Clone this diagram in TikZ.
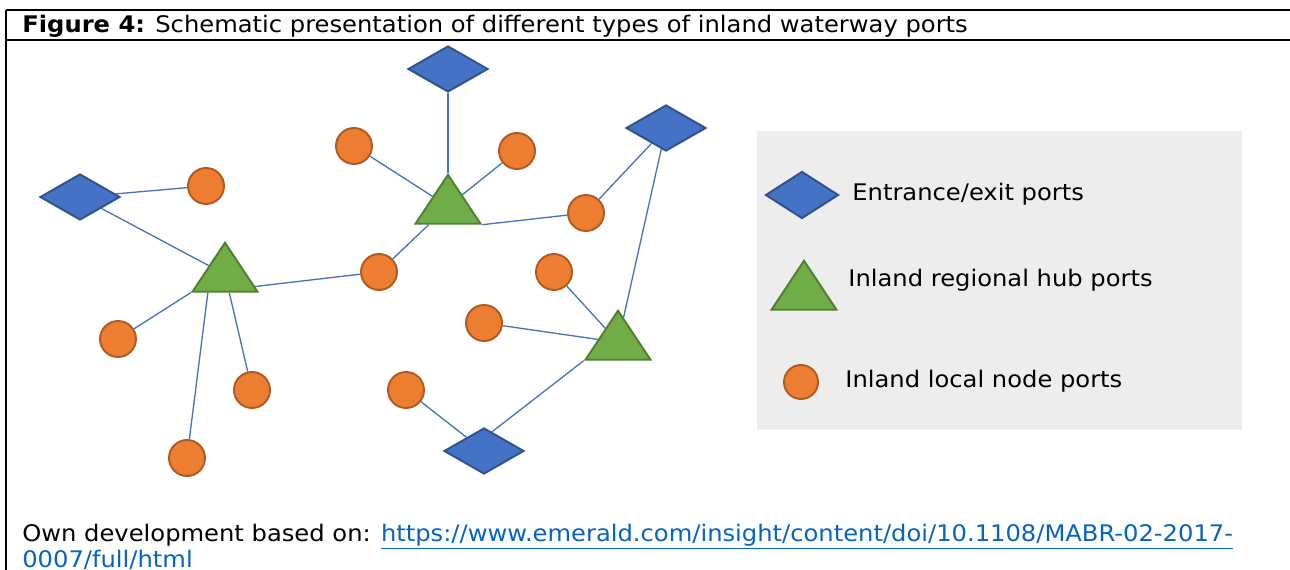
\documentclass[tikz,border=0pt]{standalone}
\usepackage{fontspec}
\setmainfont{DejaVu Sans}[FakeStretch=1.06]
\usetikzlibrary{shapes.geometric,backgrounds,calc}

\definecolor{portblue}{HTML}{4472C4}
\definecolor{exitedge}{HTML}{2F528F}
\definecolor{hubgreen}{HTML}{70AD47}
\definecolor{hubedge}{HTML}{507E32}
\definecolor{localorange}{HTML}{ED7D31}
\definecolor{localedge}{HTML}{AE5A21}
\definecolor{legendgrey}{HTML}{EDEDED}
\definecolor{linkblue}{HTML}{0563C1}

\tikzset{
  exitport/.style={diamond, draw=exitedge, fill=portblue, line width=1.1pt,
    minimum width=1.6cm, minimum height=0.92cm, inner sep=0pt},
  hubport/.style={isosceles triangle, isosceles triangle apex angle=67,
    isosceles triangle stretches, shape border rotate=90, anchor=apex,
    draw=hubedge, fill=hubgreen, line width=1.1pt,
    minimum width=1.3cm, minimum height=0.98cm, inner sep=0pt},
  localport/.style={circle, draw=localedge, fill=localorange, line width=1.1pt,
    minimum size=0.72cm, inner sep=0pt},
  waterway/.style={portblue, line width=0.75pt},
  txt/.style={anchor=base west, inner sep=0pt, font=\fontsize{13}{15.6}\selectfont},
}

\begin{document}
\begin{tikzpicture}[x=0.02cm,y=-0.02cm]
    \useasboundingbox (0,0) rectangle (1290,570);
    % frame and title
    \draw[line width=1.6pt] (6,10) -- (1290,10);
    \draw[line width=1.6pt] (6,40) -- (1290,40);
    \draw[line width=1.1pt] (6,10) -- (6,575);
    \node[txt] (title) at (22,33)
      {\textbf{Figure 4:} Schematic presentation of different types of inland waterway ports};
    % entrance/exit ports
    \node[exitport] (D1) at (448,69) {};
    \node[exitport] (D2) at (666,128) {};
    \node[exitport] (D3) at (80,197) {};
    \node[exitport] (D4) at (484,451) {};
    % regional hubs
    \node[hubport] (T1) at (448,173) {};
    \node[hubport] (T2) at (225,241) {};
    \node[hubport] (T3) at (618,309) {};
    % local nodes
    \node[localport] (C1) at (354,146) {};
    \node[localport] (C2) at (517,151) {};
    \node[localport] (C3) at (206,186) {};
    \node[localport] (C4) at (586,213) {};
    \node[localport] (C5) at (379,272) {};
    \node[localport] (C6) at (554,272) {};
    \node[localport] (C7) at (484,323) {};
    \node[localport] (C8) at (118,339) {};
    \node[localport] (C9) at (252,390) {};
    \node[localport] (C10) at (406,390) {};
    \node[localport] (C11) at (187,458) {};
    % waterways, behind the ports
    \begin{pgfonlayer}{background}
      \draw[waterway] (D1) -- (T1);
      \draw[waterway] (C1) -- (T1);
      \draw[waterway] (C2) -- (T1);
      \draw[waterway] (T1.right corner) -- (C4);
      \draw[waterway] (C5) -- (T1);
      \draw[waterway] ($(T2.right corner)!0.12!(T2.apex)$) -- (C5);
      \draw[waterway] (D3) -- (C3);
      \draw[waterway] (D3) -- (T2);
      \draw[waterway] (T2.left corner) -- (C8);
      \draw[waterway] ($(T2.left corner)!0.25!(T2.right corner)$) -- (C11);
      \draw[waterway] (T2) -- (C9);
      \draw[waterway] (C4) -- (D2);
      \draw[waterway] (D2) -- (T3);
      \draw[waterway] (C6) -- (T3);
      \draw[waterway] (C7) -- (T3);
      \draw[waterway] (T3.left corner) -- ($(D4)+(0,-13)$);
      \draw[waterway] (C10) -- (D4);
    \end{pgfonlayer}
    % legend
    \fill[legendgrey] (757,131) rectangle (1242,430);
    \node[exitport, minimum width=1.46cm, minimum height=0.94cm] (Lexit) at (802,195) {};
    \node[hubport] (Lhub) at (804,259) {};
    \node[localport, minimum size=0.68cm] (Llocal) at (801,382) {};
    \node[txt] (Lexittxt) at (852,201) {Entrance/exit ports};
    \node[txt] (Lhubtxt) at (848,287) {Inland regional hub ports};
    \node[txt] (Llocaltxt) at (845,388) {Inland local node ports};
    % source
    \node[txt] (src) at (22,541) {Own development based on:
      \textcolor{linkblue}{\underline{https://www.emerald.com/insight/content/doi/10.1108/MABR-02-2017-}}};
    \node[txt, text=linkblue] (src2) at (22,567) {\underline{0007/full/html}};
\end{tikzpicture}
\end{document}
